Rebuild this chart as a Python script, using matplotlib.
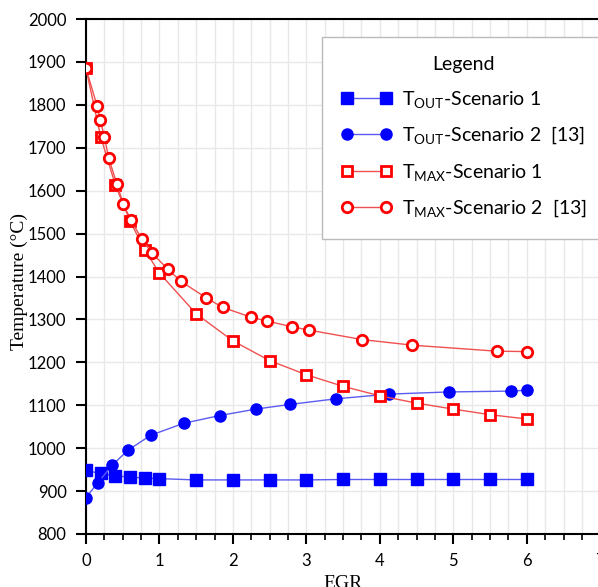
import numpy as np
import matplotlib
matplotlib.use('Agg')
import matplotlib.pyplot as plt
from matplotlib.ticker import MultipleLocator

plt.rcParams['font.family'] = ['Lato', 'DejaVu Sans']
plt.rcParams['mathtext.default'] = 'regular'

# T_OUT, scenario 1 (this work)
egr_out1 = [0, 0.2, 0.4, 0.6, 0.8, 1.0, 1.5, 2.0, 2.5, 3.0, 3.5, 4.0, 4.5, 5.0, 5.5, 6.0]
t_out1 = [948, 941, 935, 933, 930, 929, 926, 926, 926, 926, 927, 927, 927, 927, 927, 927]

# T_OUT, scenario 2 [13]
egr_out2 = [0, 0.16, 0.36, 0.57, 0.88, 1.33, 1.82, 2.31, 2.78, 3.40, 4.13, 4.94, 5.79, 6.0]
t_out2 = [885, 919, 961, 995, 1030, 1058, 1076, 1091, 1102, 1115, 1126, 1131, 1133, 1135]

# T_MAX, scenario 1
egr_max1 = [0, 0.2, 0.4, 0.6, 0.8, 1.0, 1.5, 2.0, 2.5, 3.0, 3.5, 4.0, 4.5, 5.0, 5.5, 6.0]
t_max1 = [1885, 1726, 1613, 1529, 1462, 1408, 1313, 1250, 1204, 1171, 1144, 1122, 1105, 1091, 1078, 1068]

# T_MAX, scenario 2 [13]
egr_max2 = [0, 0.15, 0.195, 0.25, 0.31, 0.42, 0.51, 0.61, 0.76, 0.90, 1.11, 1.29,
            1.63, 1.86, 2.25, 2.47, 2.80, 3.04, 3.76, 4.44, 5.59, 6.0]
t_max2 = [1885, 1798, 1764, 1726, 1675, 1616, 1568, 1532, 1487, 1454, 1418, 1389,
          1351, 1328, 1305, 1296, 1283, 1275, 1253, 1240, 1226, 1225]

fig = plt.figure(figsize=(5.98, 5.87), dpi=100)
ax = fig.add_axes([0.1438, 0.0903, 0.860, 0.8773])

line_blue = '#5b5bf0'
line_red = '#f05050'
ax.plot(egr_out1, t_out1, color=line_blue, lw=1, marker='s', ms=8,
        mfc='#0000ff', mec='#0000ff', label='T$_{OUT}$-Scenario 1', zorder=3)
ax.plot(egr_out2, t_out2, color=line_blue, lw=1, marker='o', ms=8,
        mfc='#0000ff', mec='#0000ff', label='T$_{OUT}$-Scenario 2  [13]', zorder=3)
ax.plot(egr_max1, t_max1, color=line_red, lw=1, marker='s', ms=7.5,
        mfc='white', mec='#ff0000', mew=2, label='T$_{MAX}$-Scenario 1', zorder=3)
ax.plot(egr_max2, t_max2, color=line_red, lw=1, marker='o', ms=7.5,
        mfc='white', mec='#ff0000', mew=2, label='T$_{MAX}$-Scenario 2  [13]', zorder=3)

ax.set_xlim(0, 7)
ax.set_ylim(800, 2000)
ax.xaxis.set_major_locator(MultipleLocator(1))
ax.xaxis.set_minor_locator(MultipleLocator(0.25))
ax.yaxis.set_major_locator(MultipleLocator(100))
ax.grid(which='major', color='#e8e8e8', lw=1)
ax.grid(which='minor', axis='x', color='#e8e8e8', lw=1)
ax.set_axisbelow(True)

for s in ['left', 'bottom', 'top']:
    ax.spines[s].set_color('black')
    ax.spines[s].set_linewidth(1.5)
ax.spines['right'].set_visible(False)

ax.tick_params(which='major', direction='out', length=7, width=1.5, labelsize=12, pad=7)
ax.tick_params(which='minor', direction='out', length=4, width=1.2)
ax.tick_params(axis='y', which='minor', left=False)

ax.set_ylabel('Temperature (°C)', family='Liberation Serif', fontsize=14)
ax.yaxis.set_label_coords(-0.113, 0.49)
ax.set_xlabel('EGR', family='Liberation Serif', fontsize=14, labelpad=4)

leg = ax.legend(loc='upper left', bbox_to_anchor=(0.4587, 0.965), borderaxespad=0,
                title='Legend', fontsize=14, title_fontsize=14, handlelength=2.6,
                labelspacing=0.78, borderpad=1.0, numpoints=2, handletextpad=0.5,
                frameon=True, fancybox=False, edgecolor='#bbbbbb', framealpha=1)
leg.get_frame().set_linewidth(1)

fig.savefig('out.png', dpi=100)
